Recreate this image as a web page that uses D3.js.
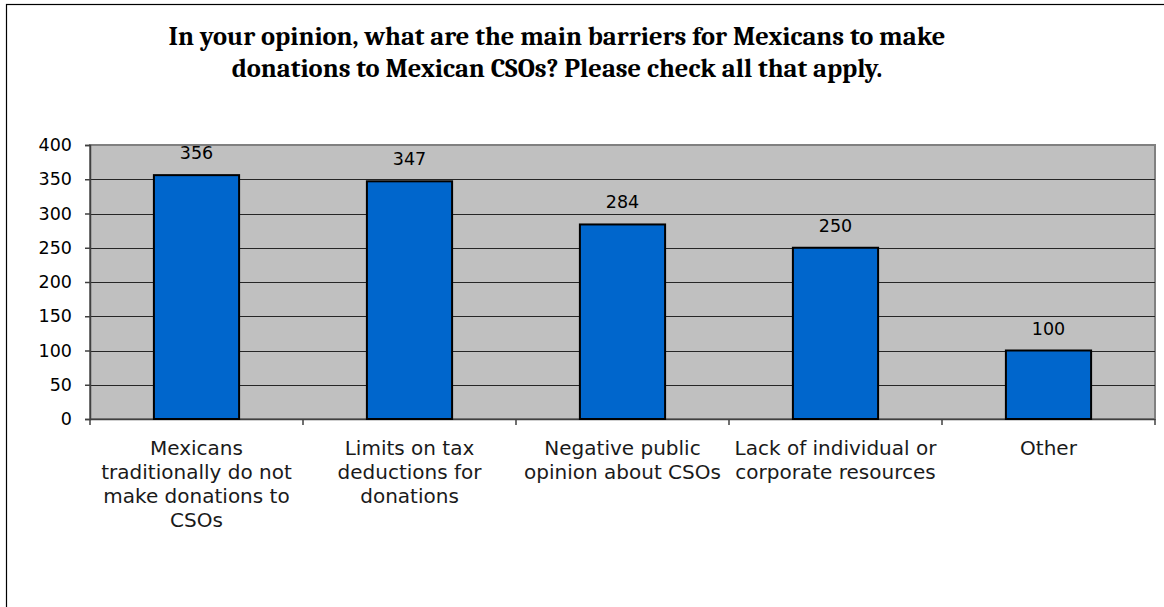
<!DOCTYPE html>
<html>
<head>
  <meta charset="UTF-8">
  <title>Barriers to donations</title>
  <style>
    body { margin: 0; background: #fff; }
    svg { display: block; }
  </style>
</head>
<body>
  <div class="graph"></div>
  <script src="https://d3js.org/d3.v7.min.js"></script>
  <script>
    // data
    var categories = [
      ["Mexicans", "traditionally do not", "make donations to", "CSOs"],
      ["Limits on tax", "deductions for", "donations"],
      ["Negative public", "opinion about CSOs"],
      ["Lack of individual or", "corporate resources"],
      ["Other"]
    ];
    var values = [356, 347, 284, 250, 100];
    var yTicks = [0, 50, 100, 150, 200, 250, 300, 350, 400];
    var titleLines = [
      "In your opinion, what are the main barriers for Mexicans to make",
      "donations to Mexican CSOs? Please check all that apply."
    ];

    var width = 1164, height = 607;
    var plot = {left: 90, right: 1155, top: 145, bottom: 419};
    var numFont = "'DejaVu Sans', Arial, sans-serif";

    var svg = d3.select(".graph").append("svg")
      .attr("width", width)
      .attr("height", height);

    // outer frame
    svg.append("rect")
      .attr("x", 6.5).attr("y", 4.5)
      .attr("width", width + 20).attr("height", height + 20)
      .attr("fill", "#fff")
      .attr("stroke", "#000")
      .attr("stroke-width", 1.2);

    // title
    svg.append("g").selectAll("text")
      .data(titleLines)
      .enter().append("text")
        .attr("x", 557)
        .attr("y", function(d, i) { return 45 + i * 32; })
        .attr("text-anchor", "middle")
        .attr("font-family", "Cambria, 'Liberation Serif', serif")
        .attr("font-weight", "bold")
        .attr("font-size", 26.5)
        .attr("fill", "#000")
        .text(function(d) { return d; });

    var x = d3.scaleBand()
      .domain(d3.range(categories.length))
      .range([plot.left, plot.right])
      .paddingInner(0.6)
      .paddingOuter(0.3);
    var xOuter = d3.scaleBand()
      .domain(d3.range(categories.length))
      .range([plot.left, plot.right]);
    var y = d3.scaleLinear().domain([0, 400]).range([plot.bottom, plot.top]);

    // plot background
    svg.append("rect")
      .attr("x", plot.left).attr("y", plot.top)
      .attr("width", plot.right - plot.left)
      .attr("height", plot.bottom - plot.top)
      .attr("fill", "#c0c0c0")
      .attr("stroke", "#808080")
      .attr("stroke-width", 2);

    // gridlines
    svg.append("g").selectAll("line")
      .data(yTicks.filter(function(d) { return d > 0 && d < 400; }))
      .enter().append("line")
        .attr("x1", plot.left).attr("x2", plot.right)
        .attr("y1", function(d) { return Math.round(y(d)) + 0.5; })
        .attr("y2", function(d) { return Math.round(y(d)) + 0.5; })
        .attr("stroke", "#262626")
        .attr("stroke-width", 1);

    // y axis
    var yAxis = svg.append("g")
      .attr("transform", "translate(" + plot.left + ",0)")
      .call(d3.axisLeft(y).tickValues(yTicks).tickSize(5).tickPadding(13));
    yAxis.select(".domain").attr("stroke", "#404040").attr("stroke-width", 1.5);
    yAxis.selectAll(".tick line").attr("stroke", "#404040").attr("stroke-width", 1.5);
    yAxis.selectAll("text")
      .attr("font-family", numFont)
      .attr("font-size", 17.5)
      .attr("fill", "#000");

    // x axis line and ticks at category boundaries
    var bounds = d3.range(categories.length + 1).map(function(i) {
      return i < categories.length ? xOuter(i) : plot.right;
    });
    svg.append("line")
      .attr("x1", plot.left).attr("x2", plot.right)
      .attr("y1", plot.bottom + 0.5).attr("y2", plot.bottom + 0.5)
      .attr("stroke", "#404040").attr("stroke-width", 1.5);
    svg.append("g").selectAll("line")
      .data(bounds)
      .enter().append("line")
        .attr("x1", function(d) { return d; })
        .attr("x2", function(d) { return d; })
        .attr("y1", plot.bottom).attr("y2", plot.bottom + 6)
        .attr("stroke", "#404040").attr("stroke-width", 1.5);

    // bars
    svg.append("g").selectAll("rect")
      .data(values)
      .enter().append("rect")
        .attr("x", function(d, i) { return x(i); })
        .attr("y", function(d) { return y(d); })
        .attr("width", x.bandwidth())
        .attr("height", function(d) { return y(0) - y(d); })
        .attr("fill", "#0066cc")
        .attr("stroke", "#000")
        .attr("stroke-width", 2);

    // value labels
    svg.append("g").selectAll("text")
      .data(values)
      .enter().append("text")
        .attr("x", function(d, i) { return x(i) + x.bandwidth() / 2; })
        .attr("y", function(d) { return y(d) - 16; })
        .attr("text-anchor", "middle")
        .attr("font-family", numFont)
        .attr("font-size", 17.5)
        .attr("fill", "#000")
        .text(function(d) { return d; });

    // category labels
    var catLabels = svg.append("g").selectAll("text")
      .data(categories)
      .enter().append("text")
        .attr("text-anchor", "middle")
        .attr("font-family", "'Century Gothic', 'DejaVu Sans', sans-serif")
        .attr("font-size", 20)
        .attr("fill", "#1a1a1a");
    catLabels.selectAll("tspan")
      .data(function(d, i) { return d.map(function(s) { return {s: s, i: i}; }); })
      .enter().append("tspan")
        .attr("x", function(d) { return x(d.i) + x.bandwidth() / 2; })
        .attr("y", function(d, j) { return 455 + j * 24; })
        .text(function(d) { return d.s; });
  </script>
</body>
</html>
